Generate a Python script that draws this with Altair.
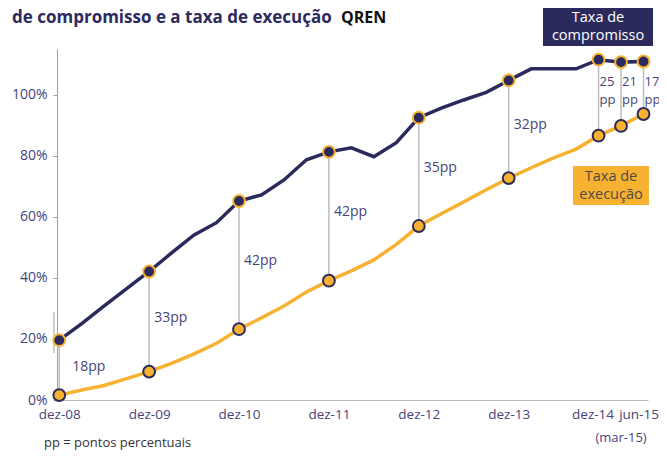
import altair as alt
import pandas as pd

quarters = ["dez-08", "mar-09", "jun-09", "set-09", "dez-09", "mar-10", "jun-10", "set-10",
            "dez-10", "mar-11", "jun-11", "set-11", "dez-11", "mar-12", "jun-12", "set-12",
            "dez-12", "mar-13", "jun-13", "set-13", "dez-13", "mar-14", "jun-14", "set-14",
            "dez-14", "mar-15", "jun-15"]
compromisso = [19.6, 25.0, 30.8, 36.5, 42.1, 48.2, 54.1, 58.1,
               65.2, 67.2, 72.1, 78.7, 81.3, 82.6, 79.7, 84.3,
               92.5, 95.6, 98.3, 100.8, 104.7, 108.5, 108.5, 108.5,
               111.5, 110.7, 110.9]
execucao = [1.6, 3.3, 4.75, 7.0, 9.3, 12.0, 15.1, 18.6,
            23.2, 26.9, 30.8, 35.4, 39.1, 42.3, 45.9, 51.0,
            57.0, 61.0, 64.9, 68.9, 72.7, 76.1, 79.3, 82.2,
            86.6, 89.8, 93.7]
marked = ["dez-08", "dez-09", "dez-10", "dez-11", "dez-12", "dez-13", "dez-14", "mar-15", "jun-15"]
gap_labels = ["18pp", "33pp", "42pp", "42pp", "35pp", "32pp", "25\npp", "21\npp", "17\npp"]
x_ticks = ["dez-08", "dez-09", "dez-10", "dez-11", "dez-12", "dez-13", "dez-14", "jun-15"]
y_ticks = [0, 20, 40, 60, 80, 100]

NAVY = "#2b2a5c"
ORANGE = "#f7b232"
LABEL = "#47447a"
FONT = "Open Sans"

df = pd.DataFrame({"i": list(range(len(quarters))), "q": quarters,
                   "comp": compromisso, "exec": execucao})
mk = df[df["q"].isin(marked)].copy()
mk["lab"] = gap_labels
one = pd.DataFrame({"k": [0]})

label_array = "[" + ",".join("'" + q + "'" for q in quarters) + "]"
tick_idx = [quarters.index(t) for t in x_ticks]
last_idx = len(quarters) - 1
dez14_idx = quarters.index("dez-14")

xs = alt.Scale(domain=[-0.1, 26.2], nice=False, zero=False)
ys = alt.Scale(domain=[0, 115], nice=False)

x_axis = alt.Axis(values=tick_idx, labelExpr=label_array + "[datum.value]", title=None,
                  grid=False, ticks=False, domainColor="#b8b8b8", labelFont=FONT,
                  labelFontSize=13.5, labelColor=LABEL, labelPadding=7, labelFlush=False,
                  labelOverlap=False, labelBound=False,
                  labelOffset={"condition": [
                      {"test": "datum.value == %d" % last_idx, "value": -5},
                      {"test": "datum.value == %d" % dez14_idx, "value": -6}],
                      "value": 0})
y_axis = alt.Axis(values=y_ticks, labelExpr="datum.value + '%'", title=None, grid=False,
                  tickSize=4, tickColor="#a0a0a0", domainColor="#a0a0a0", labelFont=FONT,
                  labelFontSize=14, labelColor=LABEL, labelPadding=6)


def X():
    return alt.X("i:Q", scale=xs, axis=x_axis)


def Y(f):
    return alt.Y(f + ":Q", scale=ys, axis=y_axis)


connectors = alt.Chart(mk).mark_rule(color="#bdbdbd", strokeWidth=1.5).encode(
    x=X(), y=Y("comp"), y2="exec:Q")

line_c = alt.Chart(df).mark_line(color=NAVY, strokeWidth=3.5).encode(x=X(), y=Y("comp"))
line_e = alt.Chart(df).mark_line(color=ORANGE, strokeWidth=3.5).encode(x=X(), y=Y("exec"))

pts_c = alt.Chart(mk).mark_circle(fill=NAVY, stroke=ORANGE, strokeWidth=2, size=140,
                                  opacity=1).encode(x=X(), y=Y("comp"))
pts_e = alt.Chart(mk).mark_circle(fill=ORANGE, stroke=NAVY, strokeWidth=2, size=140,
                                  opacity=1).encode(x=X(), y=Y("exec"))

lab_first = alt.Chart(mk).transform_filter("datum.i == 0").transform_calculate(
    mid="(datum.comp + datum.exec) / 2").mark_text(
    align="left", baseline="middle", dx=13, dy=-1, font=FONT, fontSize=14, color=LABEL
).encode(x=X(), y=Y("mid"), text="lab:N")

lab_mid = alt.Chart(mk).transform_filter("datum.i > 0 && datum.i < 24").transform_calculate(
    mid="(datum.comp + datum.exec) / 2").mark_text(
    align="left", baseline="middle", dx=5, dy=-4, font=FONT, fontSize=14, color=LABEL
).encode(x=X(), y=Y("mid"), text="lab:N")

lab_end = alt.Chart(mk).transform_filter("datum.i >= 24").mark_text(
    align="left", baseline="middle", dx=1, font=FONT, fontSize=13, color=LABEL,
    lineBreak="\n", lineHeight=18
).encode(x=X(), y=alt.value(33), text="lab:N")

mar15 = alt.Chart(df).transform_filter("datum.q == 'mar-15'").mark_text(
    align="center", baseline="middle", font=FONT, fontSize=13, color=LABEL
).encode(x=X(), y=alt.value(389), text=alt.value("(mar-15)"))

box_c = alt.Chart(one).mark_rect(color=NAVY).encode(
    x=alt.value(486), x2=alt.value(596), y=alt.value(-42), y2=alt.value(-3))
box_c_t = alt.Chart(one).mark_text(
    align="center", baseline="middle", font=FONT, fontSize=14.5, color="white",
    lineBreak="\n", lineHeight=17.5
).encode(x=alt.value(541), y=alt.value(-31), text=alt.value("Taxa de\ncompromisso"))

box_e = alt.Chart(one).mark_rect(color=ORANGE).encode(
    x=alt.value(516), x2=alt.value(592), y=alt.value(117), y2=alt.value(156))
box_e_t = alt.Chart(one).mark_text(
    align="center", baseline="middle", font=FONT, fontSize=14.5, color="#4d4a45",
    lineBreak="\n", lineHeight=18.5
).encode(x=alt.value(554), y=alt.value(127.5), text=alt.value("Taxa de\nexecução"))

title = alt.Chart(one).mark_text(
    align="left", baseline="alphabetic", font=FONT, fontSize=17, fontWeight="bold",
    color="#2e2a5f"
).encode(x=alt.value(-45), y=alt.value(-26),
         text=alt.value("de compromisso e a taxa de execução"))
qren = alt.Chart(one).mark_text(
    align="left", baseline="alphabetic", font=FONT, fontSize=16, fontWeight="bold",
    color="#111111"
).encode(x=alt.value(284), y=alt.value(-26), text=alt.value("QREN"))

foot = alt.Chart(one).mark_text(
    align="left", baseline="middle", font=FONT, fontSize=13, color="#333333"
).encode(x=alt.value(-13), y=alt.value(394), text=alt.value("pp = pontos percentuais"))

border = alt.Chart(one).mark_rule(color="#e0e0e0", strokeWidth=1.5).encode(
    x=alt.value(-54), y=alt.value(-20), y2=alt.value(410))
stub = alt.Chart(one).mark_rule(color="#d0d0d0", strokeWidth=2).encode(
    x=alt.value(-3), y=alt.value(263), y2=alt.value(304))

chart = alt.layer(
    border, stub, connectors, line_c, line_e, pts_c, pts_e,
    lab_first, lab_mid, lab_end, mar15,
    box_c, box_c_t, box_e, box_e_t, title, qren, foot
).properties(
    width=591, height=351,
    autosize=alt.AutoSizeParams(type="none"),
    padding={"left": 49, "top": 41, "right": 11, "bottom": 51},
    background="white"
).configure_view(stroke=None)

chart.save("out.html", embed_options={"renderer": "svg", "actions": False})
